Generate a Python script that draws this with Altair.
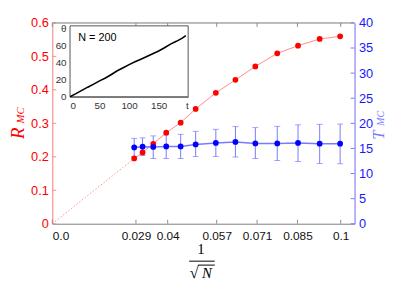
import altair as alt
import pandas as pd

# ---------------- data ----------------
inv_sqrt_n = [0.0284, 0.0313, 0.0350, 0.0395, 0.0445, 0.0497, 0.0567,
              0.0635, 0.0704, 0.0780, 0.0852, 0.0927, 0.0998]
r_mc = [0.195, 0.213, 0.239, 0.272, 0.302, 0.343, 0.391,
        0.430, 0.470, 0.509, 0.532, 0.552, 0.560]
t_mc = [15.2, 15.35, 15.3, 15.4, 15.4, 15.8, 16.1,
        16.3, 16.0, 16.0, 16.1, 15.95, 15.95]
t_lo = [13.4, 13.6, 13.0, 13.0, 13.0, 13.4, 13.4,
        13.3, 13.0, 12.6, 12.4, 12.0, 11.95]
t_hi = [17.0, 17.1, 17.5, 17.7, 17.8, 18.4, 18.8,
        19.35, 19.15, 19.4, 19.7, 19.8, 19.85]

x_ticks = [0, 0.029, 0.04, 0.057, 0.071, 0.085, 0.1]
r_ticks = [0, 0.1, 0.2, 0.3, 0.4, 0.5, 0.6]
t_ticks = [0, 5, 10, 15, 20, 25, 30, 35, 40]

inset_t = [0, 10, 20, 30, 40, 50, 60, 70, 80, 90, 100, 110, 120, 130,
           140, 150, 160, 170, 180, 190, 196]
inset_theta = [0, 3.6, 7.4, 11.2, 14.8, 18.6, 22.0, 26.1, 30.4, 34.0, 37.6,
               40.9, 44.0, 47.1, 50.3, 53.6, 57.4, 61.6, 64.9, 68.6, 71.5]
inset_xticks = [0, 50, 100, 150, 200]
inset_yticks = [0, 20, 40, 60, 80]
inset_label = "N = 200"

# ---------------- styling ----------------
W, H = 307, 204
SANS = "Liberation Sans"
SERIF = "Liberation Serif"
RED = "#ff0000"
RED_LIGHT = "#ff8a8a"
BLUE = "#0000ff"
BLUE_LIGHT = "#7a7aff"

df = pd.DataFrame({"x": inv_sqrt_n, "r": r_mc, "t": t_mc, "lo": t_lo, "hi": t_hi})
origin_df = pd.DataFrame({"x": [0, inv_sqrt_n[0]], "r": [0, r_mc[0]]})
xt_df = pd.DataFrame({"x": x_ticks})
rt_df = pd.DataFrame({"r": r_ticks})
tt_df = pd.DataFrame({"t": t_ticks})
inset_df = pd.DataFrame({"it": inset_t, "th": inset_theta})
one = pd.DataFrame({"a": [0]})

xs = alt.Scale(domain=[0, 0.1048], nice=False, zero=False)
xaxis = alt.Axis(values=x_ticks, format=".3~f",
                 labelExpr="datum.value == 0 ? '0.0' : datum.label",
                 title=None, ticks=False, grid=False, orient="bottom",
                 domainColor="#8c8c8c", labelFont=SANS, labelFontSize=12,
                 labelColor="#111111", labelPadding=7)
X = alt.X("x:Q", scale=xs, axis=xaxis)

rs = alt.Scale(domain=[0, 0.6], nice=False)
raxis = alt.Axis(values=r_ticks, orient="left", title=None, ticks=False, grid=False,
                 labelExpr="datum.value == 0 ? '0' : format(datum.value, '.1f')",
                 domainColor=RED_LIGHT, labelColor=RED, labelFont=SANS,
                 labelFontSize=13, labelPadding=4)
YR = alt.Y("r:Q", scale=rs, axis=raxis)

ts = alt.Scale(domain=[0, 40], nice=False)
taxis = alt.Axis(values=t_ticks, orient="right", title=None, ticks=False, grid=False,
                 domainColor=BLUE_LIGHT, labelColor="#1a1aff", labelFont=SANS,
                 labelFontSize=13, labelPadding=4)

# ---------------- red group ----------------
red_dotted = alt.Chart(origin_df).mark_line(color=RED_LIGHT, strokeDash=[1.5, 2],
                                            strokeWidth=1).encode(x=X, y=YR)
red_line = alt.Chart(df).mark_line(color=RED_LIGHT, strokeWidth=1).encode(x=X, y=YR)
r_tick_marks = alt.Chart(rt_df).mark_rule(color=RED_LIGHT).encode(
    y=YR, x=alt.value(0), x2=alt.value(4))
top_ticks = alt.Chart(xt_df).mark_rule(color="#8c8c8c").encode(
    x=X, y=alt.value(0), y2=alt.value(4))
bot_ticks = alt.Chart(xt_df).mark_rule(color="#8c8c8c").encode(
    x=X, y=alt.value(H - 4), y2=alt.value(H))
top_spine = alt.Chart(one).mark_rule(color="#8c8c8c").encode(
    x=alt.value(0), x2=alt.value(W), y=alt.value(0))

# axis titles / fraction label
title_font = dict(font=SERIF, fontStyle="italic")
r_title = alt.Chart(one).mark_text(text="R", fontSize=19, color=RED, angle=270,
                                   align="center", baseline="middle", **title_font
                                   ).encode(x=alt.value(-35), y=alt.value(112))
r_sub = alt.Chart(one).mark_text(text="MC", fontSize=11, color=RED, angle=270,
                                 align="center", baseline="middle", **title_font
                                 ).encode(x=alt.value(-32), y=alt.value(94))
t_title = alt.Chart(one).mark_text(text="T", fontSize=17, color=BLUE_LIGHT, angle=270,
                                   align="center", baseline="middle", **title_font
                                   ).encode(x=alt.value(332), y=alt.value(114))
t_sub = alt.Chart(one).mark_text(text="MC", fontSize=10, color=BLUE_LIGHT, angle=270,
                                 align="center", baseline="middle", **title_font
                                 ).encode(x=alt.value(334), y=alt.value(97))
frac_one = alt.Chart(one).mark_text(text="1", fontSize=15, font=SERIF, color="black",
                                    align="center", baseline="middle"
                                    ).encode(x=alt.value(151), y=alt.value(230))
frac_bar = alt.Chart(one).mark_rule(color="black", strokeWidth=1).encode(
    x=alt.value(139), x2=alt.value(165), y=alt.value(242))
frac_sqrt = alt.Chart(one).mark_text(text="√", fontSize=17, font=SERIF, color="black",
                                     align="center", baseline="middle"
                                     ).encode(x=alt.value(144), y=alt.value(254))
frac_over = alt.Chart(one).mark_rule(color="black", strokeWidth=1).encode(
    x=alt.value(148), x2=alt.value(165), y=alt.value(246))
frac_n = alt.Chart(one).mark_text(text="N", fontSize=15, font=SERIF, fontStyle="italic",
                                  color="black", align="center", baseline="middle"
                                  ).encode(x=alt.value(157), y=alt.value(254))

red_group = alt.layer(red_dotted, red_line, r_tick_marks, top_ticks, bot_ticks,
                      top_spine, r_title, r_sub, t_title, t_sub,
                      frac_one, frac_bar, frac_sqrt, frac_over, frac_n)

# ---------------- blue group ----------------
YT = alt.Y("t:Q", scale=ts, axis=taxis)
blue_line = alt.Chart(df).mark_line(color=BLUE_LIGHT, strokeWidth=1.5).encode(x=X, y=YT)
err = alt.Chart(df).mark_rule(color=BLUE_LIGHT, strokeWidth=1).encode(
    x=X, y=alt.Y("lo:Q", scale=ts, axis=taxis), y2="hi:Q")
cap_lo = alt.Chart(df).mark_tick(color=BLUE_LIGHT, orient="horizontal", size=6,
                                 thickness=1).encode(
    x=X, y=alt.Y("lo:Q", scale=ts, axis=taxis))
cap_hi = alt.Chart(df).mark_tick(color=BLUE_LIGHT, orient="horizontal", size=6,
                                 thickness=1).encode(
    x=X, y=alt.Y("hi:Q", scale=ts, axis=taxis))
blue_pts = alt.Chart(df).mark_circle(color=BLUE, opacity=1, size=34).encode(x=X, y=YT)
t_tick_marks = alt.Chart(tt_df).mark_rule(color=BLUE_LIGHT).encode(
    y=YT, x=alt.value(W - 4), x2=alt.value(W))

blue_group = alt.layer(blue_line, err, cap_lo, cap_hi, t_tick_marks)

# red points drawn above the blue error bars, blue points on top
red_pts = alt.Chart(df).mark_circle(color=RED, opacity=1, size=34).encode(
    x=X, y=alt.Y("r:Q", scale=rs, axis=None))
blue_pts = alt.Chart(df).mark_circle(color=BLUE, opacity=1, size=34).encode(
    x=X, y=alt.Y("t:Q", scale=ts, axis=None))

main = alt.layer(red_group, blue_group, red_pts, blue_pts).resolve_scale(y="independent")

# ---------------- inset ----------------
IX0, IX1, IY0, IY1 = 18, 138, 3, 75
ixs = alt.Scale(domain=[0, 200], range=[IX0, IX1], nice=False)
iys = alt.Scale(domain=[0, 83], range=[IY1, IY0], nice=False)
ixaxis = alt.Axis(values=inset_xticks, orient="bottom", offset=-(H - IY1), title=None,
                  ticks=False, grid=False, labelExpr="datum.value == 200 ? 't' : datum.label",
                  domainColor="#555555", labelColor="#333333", labelFont=SANS,
                  labelFontSize=10, labelPadding=4)
iyaxis = alt.Axis(values=inset_yticks, orient="left", offset=-IX0, title=None,
                  ticks=False, grid=False, labelExpr="datum.value == 80 ? 'θ' : datum.label",
                  domainColor="#555555", labelColor="#333333", labelFont=SANS,
                  labelFontSize=10, labelPadding=4)
IX = alt.X("it:Q", scale=ixs, axis=ixaxis)
IY = alt.Y("th:Q", scale=iys, axis=iyaxis)

inset_box = alt.Chart(one).mark_rect(fill="white", stroke="#555555", strokeWidth=1).encode(
    x=alt.X(datum=0, type="quantitative", scale=ixs, axis=ixaxis),
    x2=alt.X2(datum=200),
    y=alt.Y(datum=0, type="quantitative", scale=iys, axis=iyaxis),
    y2=alt.Y2(datum=83))
inset_line = alt.Chart(inset_df).mark_line(color="black", strokeWidth=1.6).encode(x=IX, y=IY)
inset_text = alt.Chart(one).mark_text(text=inset_label, font=SANS, fontSize=11,
                                      color="black", align="left", baseline="middle").encode(
    x=alt.X(datum=14, type="quantitative", scale=ixs, axis=ixaxis),
    y=alt.Y(datum=69, type="quantitative", scale=iys, axis=iyaxis))

inset = alt.layer(inset_box, inset_line, inset_text)

chart = alt.layer(main, inset).resolve_scale(x="independent", y="independent").properties(
    width=W, height=H,
    autosize=alt.AutoSizeParams(type="none"),
    padding={"left": 45, "top": 13, "right": 36, "bottom": 56},
).configure_view(stroke=None).configure(background="white")

chart.save("out.html", embed_options={"renderer": "svg", "actions": False})
